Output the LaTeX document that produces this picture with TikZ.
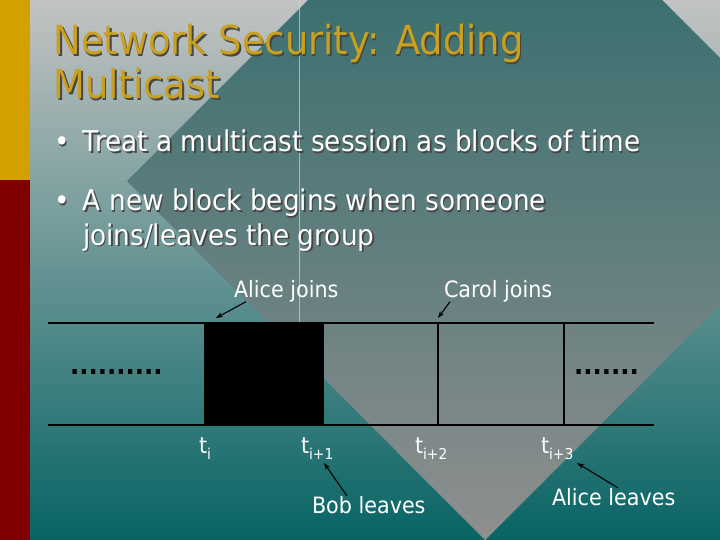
\documentclass[tikz,border=0pt]{standalone}
\usepackage{fontspec}
\setmainfont{DejaVu Sans}[FakeStretch=0.92]
\usetikzlibrary{arrows.meta}
\definecolor{goldbar}{RGB}{212,160,0}
\definecolor{redbar}{RGB}{128,0,0}
\definecolor{titlec}{RGB}{201,160,32}
\definecolor{bgtop}{RGB}{195,195,195}
\definecolor{bgmid}{RGB}{152,162,162}
\definecolor{bgbot}{RGB}{8,100,100}
\definecolor{tealtop}{RGB}{60,112,112}
\definecolor{tealmid}{RGB}{132,136,136}
\definecolor{tealbot}{RGB}{143,143,143}
\definecolor{shadowc}{RGB}{70,70,70}
\definecolor{vline}{RGB}{205,215,215}
\newcommand\shtext[2]{\leavevmode\rlap{\kern1.6pt\raisebox{-1.6pt}{\textcolor{#1}{#2}}}#2}
\newcommand\tlab[1]{t\raisebox{-6pt}{\fontsize{15}{15}\selectfont #1}}
\begin{document}
\begin{tikzpicture}[x=1pt,y=-1pt,
  every node/.style={inner sep=0pt,outer sep=0pt},
  titletext/.style={anchor=base west,text=titlec,font=\fontsize{40}{44}\selectfont},
  bullettext/.style={anchor=base west,text=white,font=\fontsize{28.6}{32}\selectfont},
  labeltext/.style={anchor=base west,text=white,font=\fontsize{22.5}{26}\selectfont},
  dottext/.style={anchor=base west,text=black,font=\bfseries\fontsize{26.5}{30}\selectfont},
  timeline/.style={line width=2pt,black},
  divider/.style={line width=1.7pt,black},
  pointer/.style={-{Stealth[length=7pt,width=5pt]},line width=1.1pt,black}]
\useasboundingbox (0,0) rectangle (720,540);
% background
\fill[goldbar] (0,0) rectangle (30,180);
\fill[redbar] (0,180) rectangle (30,540);
\shade[top color=bgtop,middle color=bgmid,bottom color=bgbot] (30,0) rectangle (720,540);
\begin{scope}
  \clip (308,0) -- (662,0) -- (720,58) -- (720,305) -- (485,540) -- (127,181) -- cycle;
  \shade[top color=tealtop,middle color=tealmid,bottom color=tealbot] (30,0) rectangle (720,540);
\end{scope}
\draw[vline,line width=0.8pt,opacity=0.7] (299,0) -- (299,322);
% title and bullets
\node[titletext] (title1) at (53.5,55) {\shtext{shadowc}{Network Security: Adding}};
\node[titletext] (title2) at (53.5,99) {\shtext{shadowc}{Multicast}};
\node[bullettext] (bullet1) at (54,152) {\shtext{shadowc}{\makebox[29pt][l]{•}Treat a multicast session as blocks of time}};
\node[bullettext] (bullet2) at (54,211) {\shtext{shadowc}{\makebox[29pt][l]{•}A new block begins when someone}};
\node[bullettext] (bullet2b) at (83,245) {\shtext{shadowc}{joins/leaves the group}};
% timeline
\fill[black] (204,323) rectangle (324,425);
\draw[timeline] (48,323) -- (654,323);
\draw[timeline] (48,425) -- (654,425);
\draw[divider] (438,323) -- (438,425);
\draw[divider] (564,323) -- (564,425);
\node[dottext] (dotsl) at (70,374.5) {..........};
\node[dottext] (dotsr) at (574,374.5) {.......};
% time labels
\node[labeltext] (ti) at (199,453) {\tlab{i}};
\node[labeltext] (ti1) at (301,453) {\tlab{i+1}};
\node[labeltext] (ti2) at (415,453) {\tlab{i+2}};
\node[labeltext] (ti3) at (541,453) {\tlab{i+3}};
% event labels
\node[labeltext] (alicej) at (234,297) {Alice joins};
\node[labeltext] (carolj) at (444,297) {Carol joins};
\node[labeltext] (bobl) at (312,513) {Bob leaves};
\node[labeltext] (alicel) at (552,505) {Alice leaves};
\coordinate (tipaj) at (216,318);
\coordinate (tipcj) at (438,318);
\coordinate (tipbl) at (324,463);
\coordinate (tipal) at (577,463);
\draw[pointer] ([xshift=12pt]alicej.south west) -- (tipaj);
\draw[pointer] ([xshift=6pt]carolj.south west) -- (tipcj);
\draw[pointer] ([xshift=35pt]bobl.north west) -- (tipbl);
\draw[pointer] ([xshift=66pt]alicel.north west) -- (tipal);
\end{tikzpicture}
\end{document}
